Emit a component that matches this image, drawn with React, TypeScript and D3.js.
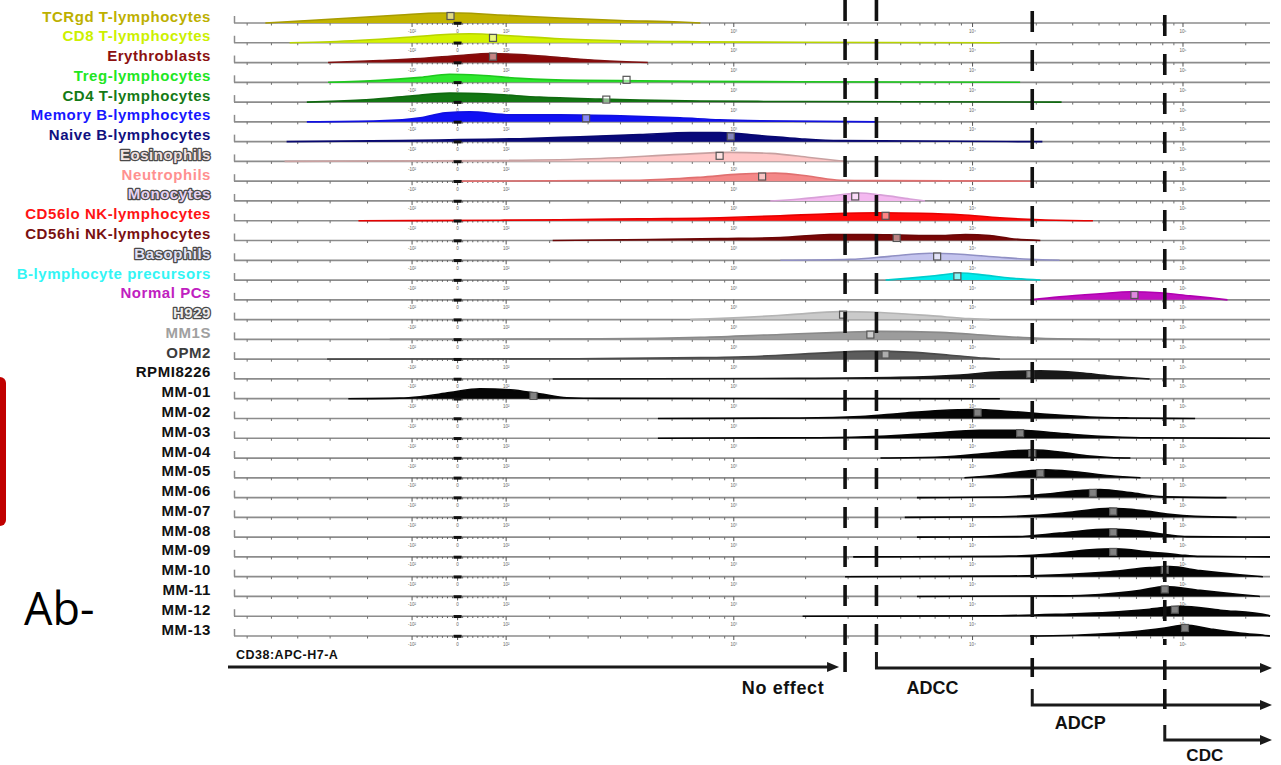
import React from "react";
import * as d3 from "d3";

// ---------- DATA ----------
const populations = [
  "TCRgd T-lymphocytes", "CD8 T-lymphocytes", "Erythroblasts", "Treg-lymphocytes",
  "CD4 T-lymphocytes", "Memory B-lymphocytes", "Naive B-lymphocytes", "Eosinophils",
  "Neutrophils", "Monocytes", "CD56lo NK-lymphocytes", "CD56hi NK-lymphocytes",
  "Basophils", "B-lymphocyte precursors", "Normal PCs", "H929", "MM1S", "OPM2",
  "RPMI8226", "MM-01", "MM-02", "MM-03", "MM-04", "MM-05", "MM-06", "MM-07",
  "MM-08", "MM-09", "MM-10", "MM-11", "MM-12", "MM-13",
];

// CD38 histograms: [display channel, % of mode]
const profiles: [number, number][][] = [
  [[31,0],[65,18],[115,45],[164,73],[204,91],[223,91],[263,73],[322,45],[382,23],[441,9],[461,0]],
  [[55,0],[95,9],[164,45],[204,73],[233,82],[273,64],[322,36],[382,18],[461,9],[559,5],[757,0]],
  [[93,0],[144,18],[184,36],[223,64],[253,82],[283,73],[322,45],[362,18],[409,0]],
  [[93,0],[144,18],[184,45],[213,73],[243,64],[283,36],[342,18],[401,14],[461,9],[559,5],[777,0]],
  [[72,0],[125,18],[174,55],[213,82],[253,73],[302,45],[362,27],[401,18],[461,9],[559,5],[818,0]],
  [[72,0],[144,9],[184,36],[209,82],[233,91],[273,64],[322,64],[382,55],[441,36],[480,18],[520,9],[635,0]],
  [[52,0],[164,9],[223,18],[283,27],[342,45],[401,64],[451,82],[480,82],[520,55],[559,27],[599,9],[799,0]],
  [[50,0],[263,9],[362,27],[441,64],[490,82],[530,73],[569,36],[604,0]],
  [[221,0],[401,9],[461,36],[500,64],[535,73],[569,45],[599,9],[639,5],[789,0]],
  [[530,0],[559,18],[589,45],[619,73],[639,55],[668,18],[683,0]],
  [[123,0],[263,5],[322,9],[401,18],[480,27],[540,45],[589,64],[639,73],[678,68],[718,55],[757,27],[797,9],[849,0]],
  [[315,0],[411,9],[480,18],[540,27],[589,55],[629,55],[658,50],[698,45],[723,55],[747,45],[767,18],[797,0]],
  [[540,0],[609,9],[648,36],[688,64],[718,55],[757,27],[787,9],[816,0]],
  [[644,0],[668,18],[698,45],[718,64],[742,45],[767,18],[797,0]],
  [[787,0],[816,27],[856,55],[886,73],[915,64],[945,36],[965,18],[982,0]],
  [[451,0],[500,18],[550,45],[599,73],[639,64],[688,36],[727,9],[747,0]],
  [[154,0],[362,5],[461,18],[540,45],[599,64],[639,73],[698,64],[747,36],[797,9],[856,0]],
  [[92,0],[362,5],[461,14],[520,27],[579,55],[629,73],[668,64],[708,36],[742,9],[757,0]],
  [[315,0],[559,5],[658,14],[718,36],[757,64],[797,73],[836,55],[866,27],[891,9],[905,0]],
  [[113,0],[164,5],[184,18],[213,55],[243,91],[273,82],[302,45],[329,9],[362,3],[757,0]],
  [[419,0],[559,5],[619,18],[658,45],[698,73],[732,82],[767,64],[807,36],[846,14],[886,5],[950,0]],
  [[419,0],[579,5],[639,18],[688,45],[737,73],[777,73],[816,45],[856,18],[896,5],[1024,0]],
  [[639,0],[698,9],[737,36],[767,64],[792,73],[816,55],[846,18],[866,5],[886,0]],
  [[722,0],[747,18],[777,55],[802,73],[831,55],[866,18],[896,0]],
  [[675,0],[757,5],[797,27],[836,64],[856,73],[886,45],[915,9],[981,0]],
  [[663,0],[757,5],[792,18],[826,45],[866,82],[896,64],[925,27],[950,9],[991,0]],
  [[675,0],[774,5],[816,36],[866,73],[896,55],[925,18],[942,5],[1024,0]],
  [[612,0],[757,5],[807,27],[846,64],[871,73],[905,45],[935,18],[955,5],[1024,0]],
  [[604,0],[757,5],[816,18],[866,45],[905,82],[925,91],[955,55],[994,18],[1017,0]],
  [[675,0],[816,5],[856,18],[896,55],[920,91],[955,55],[994,18],[1014,0]],
  [[562,0],[757,5],[816,18],[866,36],[905,64],[935,91],[975,55],[1022,9],[1024,0]],
  [[787,0],[836,9],[886,36],[920,73],[940,100],[965,64],[994,27],[1019,5],[1024,0]],
];

// median CD38 display channel of each population
const medians = [214,256,256,388,368,348,491,480,522,614,644,655,695,715,890,602,629,644,787,296,735,777,789,797,849,869,869,869,920,920,930,940];

// axis ticks (display channels)
const labeledTicks = [176, 221, 269, 494, 730, 938];
const labeledTickText = ["-10²", "0", "10²", "10³", "10⁴", "10⁵"];
const minorTicks = [13, 37, 63, 95, 132, 312, 350, 382, 409, 433, 453, 470, 485, 565, 607, 636, 659, 678, 693, 707, 719, 793, 829, 855, 875, 892, 906, 918, 929, 1000];
const linearTicks = [181, 186, 191, 196, 201, 206, 211, 216, 226, 231, 236, 241, 246, 251, 256, 261, 266];

// effect thresholds (display channels) and zone names
const thresholds = [604, 635, 789, 920];
const zones = ["No effect", "ADCC", "ADCP", "CDC"];
const axisTitle = "CD38:APC-H7-A";

// ---------- STYLES ----------
const labelColors = ["#bdb000","#ccf000","#8b1010","#22e622","#157a15","#1717ff","#101080","#f3e3e3","#ff9090","#e6d2f2","#ff1414","#7a1010","#e2e2f6","#33f5f5","#c020c0","#ededed","#a0a0a0","#3c3c3c","#111","#111","#111","#111","#111","#111","#111","#111","#111","#111","#111","#111","#111","#111"];
const outlinedLabels = new Set(["Eosinophils", "Monocytes", "Basophils", "H929"]);
const fillColors = ["#c2b400","#d4f200","#8a0808","#2ee82e","#137713","#1010f4","#08087a","#ffc6c6","#f48888","#f4b8f0","#ff0a0a","#780606","#c4c4ee","#00ecec","#c010c0","#cacaca","#9c9c9c","#5c5c5c","#181818","#050505","#050505","#050505","#050505","#050505","#050505","#050505","#050505","#050505","#050505","#050505","#050505","#050505"];
const lineColors = ["#a89c00","#b8d400","#801010","#1ec81e","#106a10","#1010e0","#080870","#c8a0a0","#e07070","#d8a0d8","#e60000","#6a0606","#9090c4","#00cccc","#b000b0","#b4b4b4","#8a8a8a","#4a4a4a","#181818","#050505","#050505","#050505","#050505","#050505","#050505","#050505","#050505","#050505","#050505","#050505","#050505","#050505"];

const W = 1281;
const H = 765;
const FONT = "'Liberation Sans', Arial, sans-serif";

const x = d3.scaleLinear().domain([0, 1024]).range([234, 1270]);
const yRow = d3.scalePoint<string>().domain(populations).range([23, 636]);
const hScale = d3.scaleLinear().domain([0, 100]).range([0, 11]);

const area = d3.area<[number, number]>()
  .x((d) => x(d[0]))
  .y0(0)
  .y1((d) => -hScale(d[1]))
  .curve(d3.curveMonotoneX);
const line = d3.line<[number, number]>()
  .x((d) => x(d[0]))
  .y((d) => -hScale(d[1]))
  .curve(d3.curveMonotoneX);

function heightAt(p: [number, number][], v: number): number {
  for (let i = 0; i < p.length - 1; i++) {
    if (v >= p[i][0] && v <= p[i + 1][0]) {
      const t = (v - p[i][0]) / (p[i + 1][0] - p[i][0]);
      return p[i][1] + t * (p[i + 1][1] - p[i][1]);
    }
  }
  return 0;
}

function Arrow({ x1, x2, y }: { x1: number; x2: number; y: number }) {
  return (
    <g>
      <line x1={x1} x2={x2 - 8} y1={y} y2={y} stroke="#1a1a1a" strokeWidth={3} />
      <polygon points={`${x2},${y} ${x2 - 12},${y - 5} ${x2 - 12},${y + 5}`} fill="#1a1a1a" />
    </g>
  );
}

export default function App() {
  const dashOffsets = [0, 0, 28, 24];
  const axisEnd = x(1024);
  return (
    <svg width={W} height={H} style={{ position: "absolute", left: 0, top: 0, background: "#fff" }} fontFamily={FONT}>
      <rect x={0} y={0} width={W} height={H} fill="#fff" />
      {/* red bracket at left */}
      <rect x={-12} y={377} width={18} height={149} rx={6} fill="#c00000" />
      <text x={24} y={625} fontFamily="'Open Sans', sans-serif" fontSize={45} fill="#000">Ab-</text>

      {/* row labels */}
      {populations.map((p, i) => {
        const out = outlinedLabels.has(p);
        return (
          <text key={"lab" + i} x={211} y={(yRow(p) as number) - 1.5} textAnchor="end"
            fontSize={15} fontWeight="bold" letterSpacing={0.55}
            fill={labelColors[i]}
            stroke={out ? "#4a4a4a" : "none"} strokeWidth={out ? 2.6 : 0}
            style={{ paintOrder: "stroke" }} strokeLinejoin="round">
            {p}
          </text>
        );
      })}

      {/* row axes */}
      {populations.map((p, i) => {
        const b = yRow(p) as number;
        return (
          <g key={"ax" + i}>
            <line x1={234} x2={axisEnd} y1={b} y2={b} stroke="#8c8c8c" strokeWidth={1.7} />
            <line x1={234.5} x2={234.5} y1={b - 7} y2={b} stroke="#8c8c8c" strokeWidth={1.5} />
            {minorTicks.map((t) => (
              <line key={"m" + t} x1={x(t)} x2={x(t)} y1={b} y2={b + 2.5} stroke="#707070" strokeWidth={1} />
            ))}
            {linearTicks.map((t) => (
              <line key={"l" + t} x1={x(t)} x2={x(t)} y1={b} y2={b + 1.8} stroke="#555" strokeWidth={0.9} />
            ))}
            {labeledTicks.map((t, k) => (
              <g key={"t" + t}>
                <line x1={x(t)} x2={x(t)} y1={b} y2={b + 4} stroke="#555" strokeWidth={1} />
                <text x={x(t)} y={b + 9.5} fontSize={4.5} textAnchor="middle" fill="#666">{labeledTickText[k]}</text>
              </g>
            ))}
          </g>
        );
      })}

      {/* histograms */}
      {populations.map((p, i) => {
        const b = yRow(p) as number;
        const prof = profiles[i];
        const m = medians[i];
        const mh = hScale(heightAt(prof, m));
        const my = Math.min(b - mh + 3, b - 2.5);
        return (
          <g key={"h" + i} transform={`translate(0,${b})`}>
            <path d={area(prof) || ""} fill={fillColors[i]} />
            <path d={line(prof) || ""} fill="none" stroke={lineColors[i]} strokeWidth={1.6} />
            <rect x={x(221) - 4} y={-1.2} width={8} height={3} fill="#111" />
            <rect x={x(m) - 3.5} y={my - b - 3.5} width={7} height={7} fill="rgba(255,255,255,0.5)" stroke="#555" strokeWidth={1.2} />
          </g>
        );
      })}

      {/* threshold dashed lines */}
      {thresholds.map((t, i) => (
        <line key={"d" + i} x1={x(t)} x2={x(t)} y1={0} y2={645} stroke="#111" strokeWidth={3.6}
          strokeDasharray="21 18" strokeDashoffset={dashOffsets[i]} />
      ))}

      {/* bottom annotation */}
      <text x={236} y={659} fontSize={12.5} fontWeight="bold" letterSpacing={0.5} fill="#111">{axisTitle}</text>
      <Arrow x1={228} x2={x(thresholds[0]) - 6} y={667} />
      <line x1={x(thresholds[0])} x2={x(thresholds[0])} y1={652} y2={672} stroke="#111" strokeWidth={3.6} />
      <text x={x(thresholds[0]) - 62} y={694} fontSize={18} fontWeight="bold" letterSpacing={0.6} textAnchor="middle" fill="#111">{zones[0]}</text>

      <path d={`M${x(thresholds[1])},652 V668 H${axisEnd - 8}`} fill="none" stroke="#1a1a1a" strokeWidth={3} />
      <Arrow x1={axisEnd - 10} x2={axisEnd + 2} y={668} />
      <line x1={x(thresholds[2])} x2={x(thresholds[2])} y1={658} y2={677} stroke="#111" strokeWidth={3.6} />
      <line x1={x(thresholds[3])} x2={x(thresholds[3])} y1={660} y2={680} stroke="#111" strokeWidth={3.6} />
      <text x={x(thresholds[1]) + 56} y={694} fontSize={18} fontWeight="bold" textAnchor="middle" fill="#111">{zones[1]}</text>

      <path d={`M${x(thresholds[2])},689 V705 H${axisEnd - 8}`} fill="none" stroke="#1a1a1a" strokeWidth={3} />
      <Arrow x1={axisEnd - 10} x2={axisEnd + 2} y={705} />
      <line x1={x(thresholds[3])} x2={x(thresholds[3])} y1={689} y2={709} stroke="#111" strokeWidth={3.6} />
      <text x={x(thresholds[2]) + 48} y={729} fontSize={18} fontWeight="bold" textAnchor="middle" fill="#111">{zones[2]}</text>

      <path d={`M${x(thresholds[3])},725 V740 H${axisEnd - 8}`} fill="none" stroke="#1a1a1a" strokeWidth={3} />
      <Arrow x1={axisEnd - 10} x2={axisEnd + 2} y={740} />
      <text x={x(thresholds[3]) + 40} y={761} fontSize={17} fontWeight="bold" textAnchor="middle" fill="#111">{zones[3]}</text>
    </svg>
  );
}
